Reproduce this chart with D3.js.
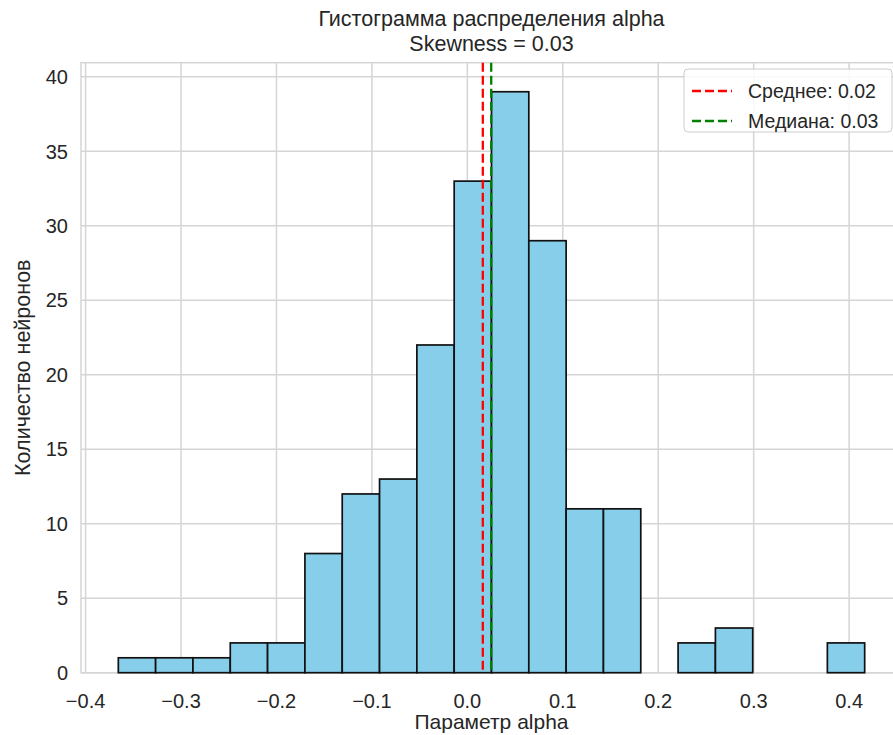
<!DOCTYPE html>
<html>
<head>
<meta charset="utf-8">
<script src="https://cdn.jsdelivr.net/npm/d3@7"></script>
<style>
  html, body { margin: 0; padding: 0; background: #ffffff; overflow: hidden; }
  svg { display: block; font-family: "Liberation Sans", Arial, sans-serif; }
</style>
</head>
<body>
<svg id="chart" width="893" height="735"></svg>
<script>
// ---- Data ----
const binEdges = [-0.3657, -0.3266, -0.2875, -0.2484, -0.2093, -0.1702, -0.1311, -0.0920, -0.0529, -0.0138,
                  0.0253, 0.0644, 0.1035, 0.1426, 0.1817, 0.2208, 0.2599, 0.2990, 0.3381, 0.3772, 0.4163];
const counts = [1, 1, 1, 2, 2, 8, 12, 13, 22, 33, 39, 29, 11, 11, 0, 2, 3, 0, 0, 2];
const meanValue = 0.0162;
const medianValue = 0.0250;
const xTicks = [-0.4, -0.3, -0.2, -0.1, 0.0, 0.1, 0.2, 0.3, 0.4];
const yTicks = [0, 5, 10, 15, 20, 25, 30, 35, 40];
const titleLines = ["Гистограмма распределения alpha", "Skewness = 0.03"];
const xLabel = "Параметр alpha";
const yLabel = "Количество нейронов";
const legendItems = [
  { label: "Среднее: 0.02", color: "#ff0000" },
  { label: "Медиана: 0.03", color: "#008000" }
];

// ---- Layout ----
const svg = d3.select("#chart");
const pLeft = 81, pRight = 902, pTop = 62.7, pBottom = 672.7;
const textColor = "#262626";
const gridColor = "#d5d5d5";

const bins = counts.map((c, i) => ({ x0: binEdges[i], x1: binEdges[i + 1], count: c }));
const lo = binEdges[0], hi = binEdges[binEdges.length - 1];
const pad = (hi - lo) * 0.05;
const x = d3.scaleLinear().domain([lo - pad, hi + pad]).range([pLeft, pRight]);
const yMax = d3.max(counts) * 1.05;
const y = d3.scaleLinear().domain([0, yMax]).range([pBottom, pTop]);

// grid
const g = svg.append("g");
g.selectAll("line.vgrid").data(xTicks).join("line")
  .attr("x1", d => x(d)).attr("x2", d => x(d))
  .attr("y1", pTop).attr("y2", pBottom)
  .attr("stroke", gridColor).attr("stroke-width", 1.5);
g.selectAll("line.hgrid").data(yTicks).join("line")
  .attr("x1", pLeft).attr("x2", pRight)
  .attr("y1", d => y(d)).attr("y2", d => y(d))
  .attr("stroke", gridColor).attr("stroke-width", 1.5);

// spines
svg.append("rect")
  .attr("x", pLeft).attr("y", pTop)
  .attr("width", pRight - pLeft).attr("height", pBottom - pTop)
  .attr("fill", "none").attr("stroke", gridColor).attr("stroke-width", 1.5);

// bars
svg.append("g").selectAll("rect").data(bins.filter(b => b.count > 0)).join("rect")
  .attr("x", d => x(d.x0))
  .attr("y", d => y(d.count))
  .attr("width", d => x(d.x1) - x(d.x0))
  .attr("height", d => y(0) - y(d.count))
  .attr("fill", "#87ceeb")
  .attr("stroke", "#111111")
  .attr("stroke-width", 1.7);

// mean / median lines
svg.append("line")
  .attr("x1", x(meanValue)).attr("x2", x(meanValue))
  .attr("y1", pTop).attr("y2", pBottom)
  .attr("stroke", "#ff0000").attr("stroke-width", 2.3)
  .attr("stroke-dasharray", "9,4");
svg.append("line")
  .attr("x1", x(medianValue)).attr("x2", x(medianValue))
  .attr("y1", pTop).attr("y2", pBottom)
  .attr("stroke", "#008000").attr("stroke-width", 2.3)
  .attr("stroke-dasharray", "9,4");

// x axis tick labels
const fmt = d3.format(".1f");
svg.append("g").selectAll("text").data(xTicks).join("text")
  .attr("x", d => x(d)).attr("y", 707.5)
  .attr("text-anchor", "middle")
  .attr("font-size", 20).attr("fill", textColor)
  .text(d => fmt(d));

// y axis tick labels
svg.append("g").selectAll("text").data(yTicks).join("text")
  .attr("x", 68).attr("y", d => y(d))
  .attr("dy", "0.36em")
  .attr("text-anchor", "end")
  .attr("font-size", 20).attr("fill", textColor)
  .text(d => d);

// axis labels
svg.append("text")
  .attr("x", (pLeft + pRight) / 2).attr("y", 729)
  .attr("text-anchor", "middle")
  .attr("font-size", 21).attr("fill", textColor)
  .text(xLabel);
svg.append("text")
  .attr("transform", `translate(30,${(pTop + pBottom) / 2}) rotate(-90)`)
  .attr("text-anchor", "middle")
  .attr("font-size", 21.5).attr("fill", textColor)
  .text(yLabel);

// title
svg.append("g").selectAll("text").data(titleLines).join("text")
  .attr("x", (pLeft + pRight) / 2)
  .attr("y", (d, i) => 25.5 + i * 25.8)
  .attr("text-anchor", "middle")
  .attr("font-size", 21.5).attr("fill", textColor)
  .text(d => d);

// legend
const lg = svg.append("g");
const lgX = 684, lgY = 69, lgW = 208, lgH = 63;
lg.append("rect")
  .attr("x", lgX).attr("y", lgY).attr("width", lgW).attr("height", lgH)
  .attr("rx", 4).attr("ry", 4)
  .attr("fill", "#ffffff").attr("fill-opacity", 0.85)
  .attr("stroke", "#cccccc").attr("stroke-width", 1);
const rows = lg.selectAll("g.row").data(legendItems).join("g")
  .attr("transform", (d, i) => `translate(0,${91 + i * 30})`);
rows.append("line")
  .attr("x1", 692).attr("x2", 732).attr("y1", 0).attr("y2", 0)
  .attr("stroke", d => d.color).attr("stroke-width", 2.3)
  .attr("stroke-dasharray", "9,4");
rows.append("text")
  .attr("x", 748).attr("y", 0).attr("dy", "0.36em")
  .attr("font-size", 19.5).attr("fill", textColor)
  .text(d => d.label);
</script>
</body>
</html>
